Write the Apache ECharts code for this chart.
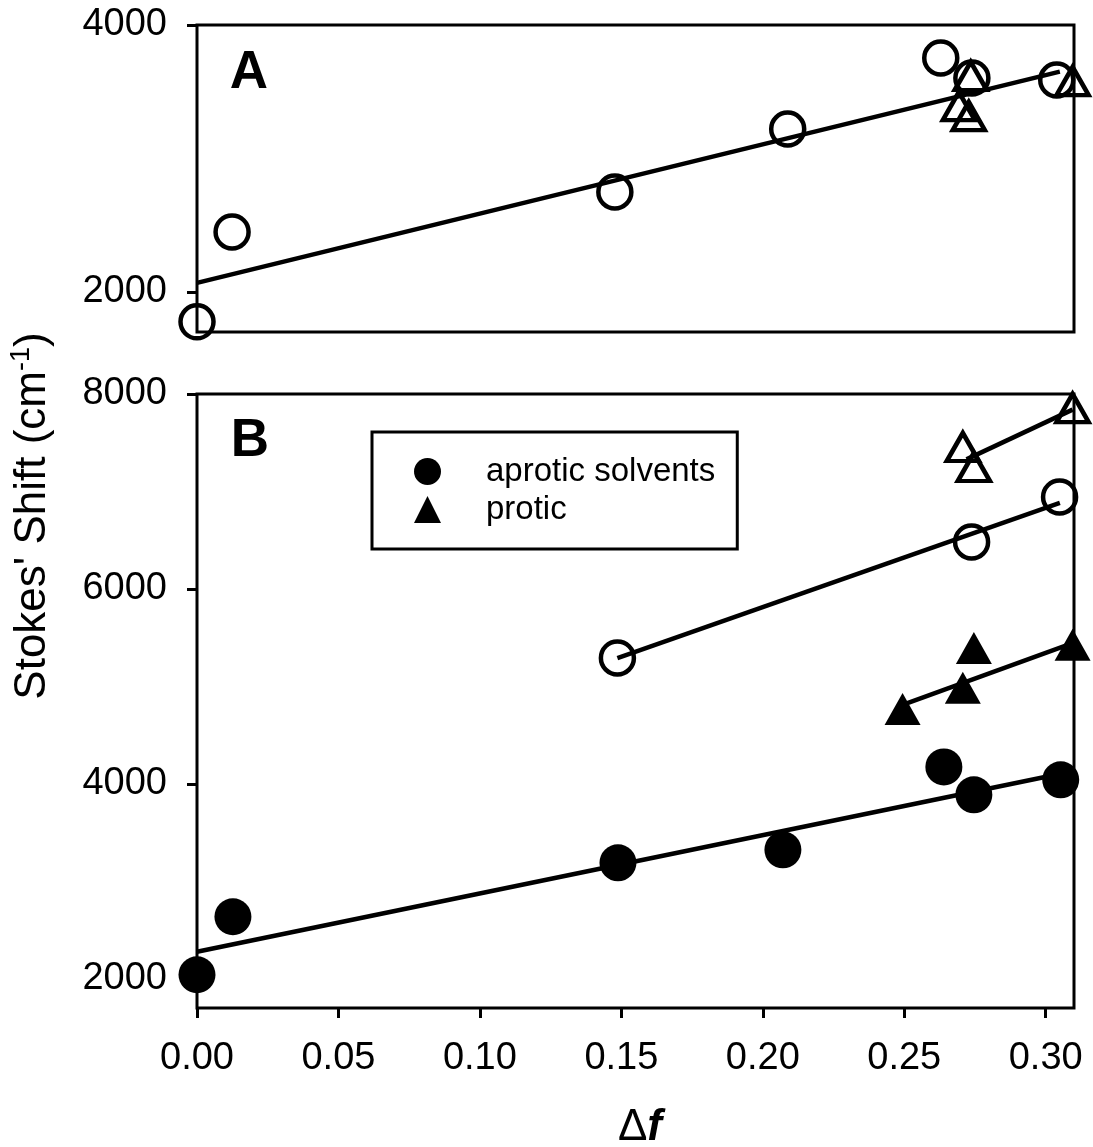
<!DOCTYPE html>
<html>
<head>
<meta charset="utf-8">
<title>Stokes' Shift vs Δf</title>
<script src="https://cdn.jsdelivr.net/npm/echarts@6.0.0/dist/echarts.min.js"></script>
<style>
  html, body { margin: 0; padding: 0; background: #fff; }
  #chart { width: 1093px; height: 1147px; }
</style>
</head>
<body>
<div id="chart"></div>
<script>
// tick labels
const xTicks = [0, 0.05, 0.10, 0.15, 0.20, 0.25, 0.30];
const yTicksA = [2000, 4000];
const yTicksB = [2000, 4000, 6000, 8000];

// panel A: [Δf, Stokes shift]
const aCircles = [[0, 1776], [0.0124, 2450], [0.1477, 2749], [0.2088, 3221], [0.2629, 3753], [0.2739, 3603], [0.3039, 3588]];
const aTriangles = [[0.2735, 3618], [0.2693, 3393], [0.2728, 3318], [0.3095, 3580]];
const aFit = [[0, 2068], [0.305, 3651]];

// panel B
const bOpenTri = [[0.2707, 7456], [0.2746, 7251], [0.3095, 7856]];
const bOpenTriFit = [[0.272, 7329], [0.3095, 7840]];
const bOpenCirc = [[0.1486, 5292], [0.2738, 6482], [0.3049, 6944]];
const bOpenCircFit = [[0.1486, 5290], [0.305, 6882]];
const bFilledTri = [[0.2494, 4769], [0.2707, 4985], [0.2746, 5395], [0.3095, 5426]];
const bFilledTriFit = [[0.2494, 4810], [0.3095, 5445]];
const bFilledCirc = [[0, 2041], [0.0127, 2636], [0.1488, 3190], [0.2071, 3323], [0.264, 4174], [0.2746, 3887], [0.3053, 4041]];
const bFilledCircFit = [[0, 2277], [0.3053, 4103]];

const FONT = 'Liberation Sans, Arial, sans-serif';

// open (hollow) markers
function openMarks(name, data, symbol, size, axis) {
    return {
        name: name, type: 'scatter', data: data,
        xAxisIndex: axis, yAxisIndex: axis,
        symbol: symbol, symbolSize: size, clip: false, z: 3,
        itemStyle: { color: 'rgba(0,0,0,0)', borderColor: '#000', borderWidth: 4.5, opacity: 1 }
    };
}

// filled markers
function filledMarks(name, data, symbol, size, axis) {
    return {
        name: name, type: 'scatter', data: data,
        xAxisIndex: axis, yAxisIndex: axis,
        symbol: symbol, symbolSize: size, clip: false, z: 3,
        itemStyle: { color: '#000', opacity: 1 }
    };
}

// fitted straight line
function fitLine(data, axis) {
    return {
        type: 'line', data: data,
        xAxisIndex: axis, yAxisIndex: axis,
        symbol: 'none', clip: false, silent: true, z: 4,
        lineStyle: { color: '#000', width: 4.5 }
    };
}

function yAxisFor(grid, min, max, ticks) {
    return {
        type: 'value', gridIndex: grid, min: min, max: max,
        splitLine: { show: false },
        axisLine: { show: false },
        axisTick: { show: true, inside: false, length: 10, customValues: ticks,
                    lineStyle: { color: '#000', width: 3 } },
        axisLabel: { customValues: ticks, margin: 30, color: '#000',
                     fontSize: 38, fontFamily: FONT,
                     formatter: function (v) { return String(v); } }
    };
}

const chart = echarts.init(document.getElementById('chart'));

const option = {
    animation: false,
    backgroundColor: '#fff',
    grid: [
        { left: 197, top: 25, width: 877, height: 307, show: true,
          borderColor: '#000', borderWidth: 3, backgroundColor: 'transparent' },
        { left: 197, top: 394, width: 877, height: 614, show: true,
          borderColor: '#000', borderWidth: 3, backgroundColor: 'transparent' }
    ],
    xAxis: [
        { type: 'value', gridIndex: 0, min: 0, max: 0.31,
          axisLine: { show: false }, axisTick: { show: false },
          axisLabel: { show: false }, splitLine: { show: false } },
        { type: 'value', gridIndex: 1, min: 0, max: 0.31,
          axisLine: { show: false }, splitLine: { show: false },
          axisTick: { show: true, inside: false, length: 10, customValues: xTicks,
                      lineStyle: { color: '#000', width: 3 } },
          axisLabel: { customValues: xTicks, margin: 32, color: '#000',
                       fontSize: 38, fontFamily: FONT,
                       formatter: function (v) { return v.toFixed(2); } } }
    ],
    yAxis: [
        yAxisFor(0, 1700, 4000, yTicksA),
        yAxisFor(1, 1700, 8000, yTicksB)
    ],
    legend: {
        left: 372, top: 432, orient: 'vertical',
        borderColor: '#000', borderWidth: 3,
        padding: [23, 22, 23, 42],
        itemWidth: 27, itemHeight: 27, itemGap: 5,
        selectedMode: false,
        textStyle: { color: '#000', fontSize: 33, lineHeight: 27, fontFamily: FONT,
                     padding: [0, 0, 0, 40] },
        data: [
            { name: 'aprotic solvents', icon: 'circle', itemStyle: { color: '#000', opacity: 1 } },
            { name: 'protic', icon: 'triangle', itemStyle: { color: '#000', opacity: 1 } }
        ]
    },
    graphic: [
        { type: 'text', x: 249, y: 73, z: 10,
          style: { text: 'A', font: 'bold 53px ' + FONT, fill: '#000',
                   align: 'center', verticalAlign: 'middle',
                   textAlign: 'center', textVerticalAlign: 'middle' } },
        { type: 'text', x: 250, y: 441, z: 10,
          style: { text: 'B', font: 'bold 53px ' + FONT, fill: '#000',
                   align: 'center', verticalAlign: 'middle',
                   textAlign: 'center', textVerticalAlign: 'middle' } },
        { type: 'text', x: 33, y: 516, rotation: Math.PI / 2, z: 10,
          style: { text: "{m|Stokes' Shift (cm}{s|-1}{m|)}", fill: '#000',
                   align: 'center', verticalAlign: 'middle',
                   textAlign: 'center', textVerticalAlign: 'middle',
                   rich: {
                       m: { fontSize: 44, fontFamily: FONT, fill: '#000', lineHeight: 50 },
                       s: { fontSize: 27, fontFamily: FONT, fill: '#000', lineHeight: 50,
                            verticalAlign: 'top', padding: [0, 0, 18, 0] }
                   } } },
        { type: 'text', x: 640, y: 1128, z: 10,
          style: { text: '{d|Δ}{f|f}', fill: '#000',
                   align: 'center', verticalAlign: 'middle',
                   textAlign: 'center', textVerticalAlign: 'middle',
                   rich: {
                       d: { fontSize: 44, fontFamily: FONT, fill: '#000' },
                       f: { fontSize: 44, fontFamily: FONT, fontStyle: 'italic',
                            fontWeight: 'bold', fill: '#000' }
                   } } }
    ],
    series: [
        // panel A
        fitLine(aFit, 0),
        openMarks('A circles', aCircles, 'circle', 33, 0),
        openMarks('A triangles', aTriangles, 'triangle', [32, 28], 0),
        // panel B
        fitLine(bOpenTriFit, 1),
        fitLine(bOpenCircFit, 1),
        fitLine(bFilledTriFit, 1),
        fitLine(bFilledCircFit, 1),
        openMarks('B open triangles', bOpenTri, 'triangle', [32, 28], 1),
        openMarks('B open circles', bOpenCirc, 'circle', 33, 1),
        filledMarks('protic', bFilledTri, 'triangle', [36, 32], 1),
        filledMarks('aprotic solvents', bFilledCirc, 'circle', 37, 1)
    ]
};

chart.setOption(option);
</script>
</body>
</html>
